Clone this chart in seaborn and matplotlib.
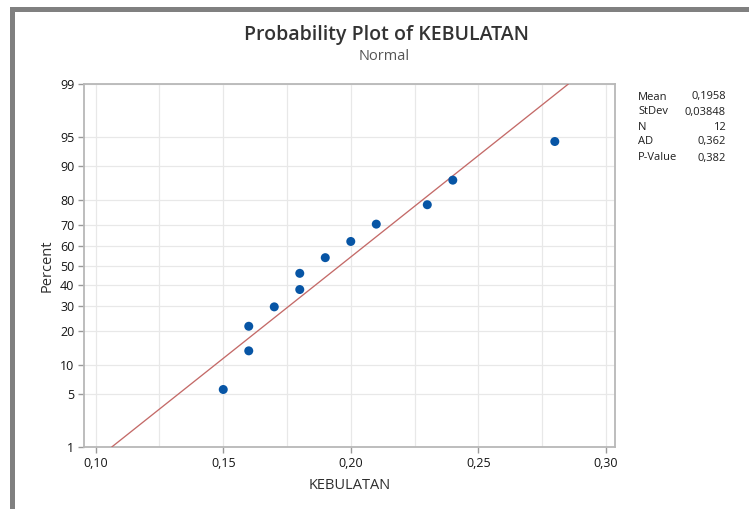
import numpy as np
import matplotlib
matplotlib.use("Agg")
import matplotlib.pyplot as plt
from matplotlib.patches import Rectangle
from matplotlib.ticker import FixedLocator, FuncFormatter, NullLocator
import seaborn as sns
from statistics import NormalDist

# Sample values (sorted) and their median-rank percentages
kebulatan = [0.15, 0.16, 0.16, 0.17, 0.18, 0.18, 0.19, 0.20, 0.21, 0.23, 0.24, 0.28]
percent = [5.6, 13.7, 21.8, 29.8, 37.9, 46.0, 54.0, 62.1, 70.2, 78.2, 86.3, 94.4]

# Axis ticks
y_ticks = [1, 5, 10, 20, 30, 40, 50, 60, 70, 80, 90, 95, 99]
x_ticks = [0.10, 0.15, 0.20, 0.25, 0.30]
x_minor = [0.125, 0.175, 0.225, 0.275]

# Summary statistics
stat_names = ["Mean", "StDev", "N", "AD", "P-Value"]
stat_values = ["0,1958", "0,03848", "12", "0,362", "0,382"]
fit_mean = 0.1958
fit_sd = 0.03848

_nd = NormalDist()


def to_z(p):
    p = np.clip(np.asarray(p, dtype=float) / 100.0, 1e-9, 1 - 1e-9)
    return np.vectorize(_nd.inv_cdf, otypes=[float])(p)


def from_z(z):
    return 100.0 * np.vectorize(_nd.cdf, otypes=[float])(np.asarray(z, dtype=float))


sns.set_style("white")
plt.rcParams["font.family"] = ["Open Sans", "DejaVu Sans"]

W, H = 749, 509
fig = plt.figure(figsize=(W / 100, H / 100), dpi=100)
ax = fig.add_axes([84 / W, 1 - 447 / H, (615 - 84) / W, (447 - 84) / H])

ax.set_yscale("function", functions=(to_z, from_z))

# Fitted normal line across the full percent range
fit_p = np.linspace(1, 99, 60)
fit_x = fit_mean + fit_sd * to_z(fit_p)
sns.lineplot(x=fit_x, y=fit_p, ax=ax, color="#C46A68", lw=0.95,
             sort=False, estimator=None, zorder=3)

sns.scatterplot(x=kebulatan, y=percent, ax=ax, color="#0755A5", s=42,
                edgecolor="none", zorder=4)

ax.set_xlim(0.0954, 0.3036)
ax.set_ylim(1, 99)

ax.yaxis.set_major_locator(FixedLocator(y_ticks))
ax.yaxis.set_minor_locator(NullLocator())
ax.yaxis.set_major_formatter(FuncFormatter(lambda v, _: f"{v:g}"))
ax.xaxis.set_major_locator(FixedLocator(x_ticks))
ax.xaxis.set_minor_locator(FixedLocator(x_minor))
ax.xaxis.set_major_formatter(FuncFormatter(lambda v, _: f"{v:.2f}".replace(".", ",")))

ax.grid(True, which="major", color="#e8e8e8", lw=0.9)
ax.grid(True, which="minor", axis="x", color="#e8e8e8", lw=0.9)
ax.set_axisbelow(True)

for s in ax.spines.values():
    s.set_color("#b8b8b8")
    s.set_linewidth(1.3)

ax.tick_params(axis="both", which="major", direction="out", length=4, width=1,
               color="#9a9a9a", labelsize=9, labelcolor="#141414", pad=3,
               left=True, bottom=True)
ax.tick_params(axis="x", which="minor", length=0)
for lab in ax.get_xticklabels() + ax.get_yticklabels():
    lab.set_fontweight("medium")

ax.set_xlabel("KEBULATAN", fontsize=10.5, color="#2e2e2e", labelpad=6,
              fontweight="medium")
ax.set_ylabel("Percent", fontsize=10.5, color="#2e2e2e", labelpad=4,
              fontweight="medium")

fig.text(386 / W, 1 - 35 / H, "Probability Plot of KEBULATAN", ha="center",
         va="center", fontsize=14, fontweight="semibold", color="#333333")
fig.text(384 / W, 1 - 56 / H, "Normal", ha="center", va="center",
         fontsize=10.5, color="#555555")

row_y = [97, 112, 127, 142, 158]
for name, val, yy in zip(stat_names, stat_values, row_y):
    fig.text(638 / W, 1 - yy / H, name, ha="left", va="center",
             fontsize=8, color="#1e1e1e")
    fig.text(726 / W, 1 - yy / H, val, ha="right", va="center",
             fontsize=8, color="#1e1e1e")

# Window frame
fig.add_artist(Rectangle((10 / W, 0), 5 / W, 1 - 7 / H,
                         transform=fig.transFigure, color="#808080", lw=0))
fig.add_artist(Rectangle((10 / W, 1 - 12 / H), 1 - 10 / W, 5 / H,
                         transform=fig.transFigure, color="#808080", lw=0))

fig.savefig("out.png", dpi=100)
